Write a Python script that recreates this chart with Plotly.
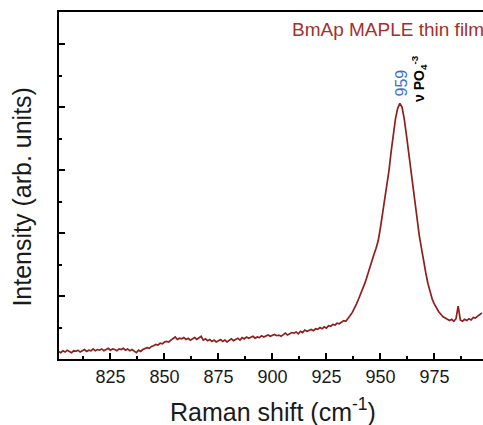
import plotly.graph_objects as go

# Raman shift axis (cm^-1), sampled every 1 cm^-1
raman_shift = list(range(801, 998))

# Intensity (arb. units)
intensity = [
    0.12, 0.10, 0.13, 0.11, 0.14, 0.12, 0.10, 0.13, 0.12, 0.14,
    0.11, 0.13, 0.15, 0.12, 0.14, 0.13, 0.16, 0.13, 0.15, 0.14,
    0.16, 0.13, 0.15, 0.17, 0.14, 0.16, 0.15, 0.13, 0.16, 0.15,
    0.17, 0.14, 0.16, 0.13, 0.15, 0.12, 0.10, 0.14, 0.12, 0.15,
    0.16, 0.18, 0.17, 0.20, 0.21, 0.23, 0.22, 0.25, 0.24, 0.27,
    0.28, 0.27, 0.30, 0.32, 0.35, 0.31, 0.33, 0.32, 0.34, 0.31,
    0.33, 0.30, 0.32, 0.34, 0.31, 0.33, 0.36, 0.30, 0.32, 0.29,
    0.31, 0.28, 0.30, 0.27, 0.29, 0.31, 0.28, 0.30, 0.27, 0.30,
    0.32, 0.29, 0.31, 0.33, 0.30, 0.34, 0.32, 0.35, 0.33, 0.34,
    0.36, 0.33, 0.35, 0.34, 0.37, 0.35, 0.36, 0.38, 0.36, 0.37,
    0.39, 0.37, 0.38, 0.36, 0.39, 0.41, 0.38, 0.40, 0.42, 0.41,
    0.43, 0.40, 0.44, 0.42, 0.46, 0.44, 0.45, 0.47, 0.45, 0.48,
    0.47, 0.50, 0.48, 0.51, 0.49, 0.53, 0.52, 0.55, 0.54, 0.57,
    0.56, 0.59, 0.61, 0.60, 0.64, 0.69, 0.74, 0.80, 0.88, 0.96,
    1.04, 1.12, 1.22, 1.33, 1.45, 1.55, 1.66, 1.76, 1.88, 2.08,
    2.30, 2.52, 2.76, 3.00, 3.30, 3.58, 3.82, 3.98, 4.06, 4.00,
    3.82, 3.57, 3.30, 3.03, 2.74, 2.45, 2.18, 1.96, 1.76, 1.54,
    1.37, 1.20, 1.06, 0.95, 0.87, 0.80, 0.75, 0.71, 0.67, 0.65,
    0.63, 0.61, 0.63, 0.60, 0.64, 0.84, 0.62, 0.60, 0.63, 0.61,
    0.64, 0.62, 0.66, 0.65, 0.68, 0.70, 0.73,
]

x_tickvals = [825, 850, 875, 900, 925, 950, 975]
x_ticktext = ["825", "850", "875", "900", "925", "950", "975"]

peak_position = 959
peak_label = "959"
band_label = "ν PO<sub>4</sub><sup>-3</sup>"
sample_label = "BmAp MAPLE thin film"

FONT = "Liberation Sans, Arial, Helvetica, sans-serif"

fig = go.Figure()
fig.add_trace(go.Scatter(
    x=raman_shift, y=intensity, mode="lines",
    line=dict(color="#8e1f1c", width=1.7),
    showlegend=False, hoverinfo="skip",
))

fig.update_layout(
    width=483, height=425,
    margin=dict(l=59, r=0, t=12, b=66),
    paper_bgcolor="white", plot_bgcolor="white",
    font=dict(family=FONT, color="#1a1a1a"),
    xaxis=dict(
        range=[801.2, 997.5],
        showline=True, linecolor="black", linewidth=2, mirror=True,
        showgrid=False, zeroline=False,
        tickmode="array", tickvals=x_tickvals, ticktext=x_ticktext,
        ticks="inside", ticklen=6, tickwidth=2, tickcolor="black",
        tickfont=dict(size=18, family=FONT, color="#1a1a1a"),
        minor=dict(dtick=12.5, tick0=800, ticks="inside", ticklen=3,
                   tickwidth=2, tickcolor="black", showgrid=False),
    ),
    yaxis=dict(
        range=[0, 5.51],
        showline=True, linecolor="black", linewidth=2, mirror=False,
        showgrid=False, zeroline=False,
        tickmode="linear", tick0=0, dtick=1, showticklabels=False,
        ticks="inside", ticklen=6, tickwidth=2, tickcolor="black",
        minor=dict(dtick=0.5, tick0=0, ticks="inside", ticklen=3,
                   tickwidth=2, tickcolor="black", showgrid=False),
    ),
    annotations=[
        dict(xref="paper", yref="paper", x=-0.0873, y=0.468,
             text="Intensity (arb. units)", textangle=-90, showarrow=False,
             xanchor="center", yanchor="middle",
             font=dict(size=25, family=FONT, color="#1a1a1a")),
        dict(xref="paper", yref="paper", x=0.505, y=-0.147,
             text="Raman shift (cm<sup>-1</sup>)", showarrow=False,
             xanchor="center", yanchor="middle",
             font=dict(size=25, family=FONT, color="#1a1a1a")),
        dict(xref="paper", yref="paper", x=0.545, y=0.951,
             text=sample_label, showarrow=False,
             xanchor="left", yanchor="middle",
             font=dict(size=19, family=FONT, color="#a3302c")),
        dict(xref="x", yref="y", x=peak_position + 0.7, y=4.38,
             text=peak_label, textangle=-90, showarrow=False,
             xanchor="center", yanchor="middle",
             font=dict(size=16, family=FONT, color="#3d6fd4")),
        dict(xref="x", yref="y", x=967.8, y=4.46,
             text="<b>" + band_label + "</b>", textangle=-90, showarrow=False,
             xanchor="center", yanchor="middle",
             font=dict(size=14, family=FONT, color="black")),
    ],
)

fig.write_html(
    "out.html",
    config={"displayModeBar": False},
    post_script="document.body.style.margin='0';document.body.style.overflow='hidden';",
)
